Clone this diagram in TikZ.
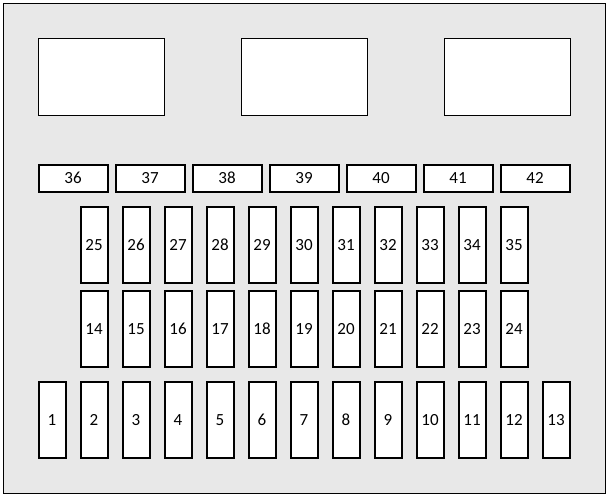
\documentclass[tikz,border=0pt]{standalone}
\usepackage{fontspec}
\setmainfont[Numbers=Lining]{Carlito}
\begin{document}
\begin{tikzpicture}[x=1pt,y=-1pt,
  panel/.style={draw=black,line width=1pt,fill=white},
  fuse/.style={draw=black,line width=2pt,fill=white,inner sep=0pt,text height=11pt,text depth=0pt,font=\fontsize{17}{18}\selectfont}]
\useasboundingbox (0,0) rectangle (615,498);
\fill[white] (0,0) rectangle (615,498);
\filldraw[fill=black!9,draw=black,line width=1pt] (3.5,3.5) rectangle (605.5,493.5);
% relay panels
\foreach \i/\x in {1/38,2/241,3/444}{
  \draw[panel] (\x+0.5,38.5) rectangle (\x+126.5,115.5);
  \coordinate (relay\i) at (\x+63,77);
}
% fuses 36-42
\foreach \k in {0,...,6}{
  \pgfmathtruncatemacro{\n}{36+\k}
  \node[fuse,minimum width=69pt,minimum height=27pt] (f\n) at ({73+77*\k},178) {\n};
}
% fuses 25-35
\foreach \k in {0,...,10}{
  \pgfmathtruncatemacro{\n}{25+\k}
  \node[fuse,minimum width=27pt,minimum height=76pt] (f\n) at ({94+42*\k},244.5) {\n};
}
% fuses 14-24
\foreach \k in {0,...,10}{
  \pgfmathtruncatemacro{\n}{14+\k}
  \node[fuse,minimum width=27pt,minimum height=76pt] (f\n) at ({94+42*\k},328.5) {\n};
}
% fuses 1-13
\foreach \k in {0,...,12}{
  \pgfmathtruncatemacro{\n}{1+\k}
  \node[fuse,minimum width=27pt,minimum height=76pt] (f\n) at ({52+42*\k},419.5) {\n};
}
\end{tikzpicture}
\end{document}
